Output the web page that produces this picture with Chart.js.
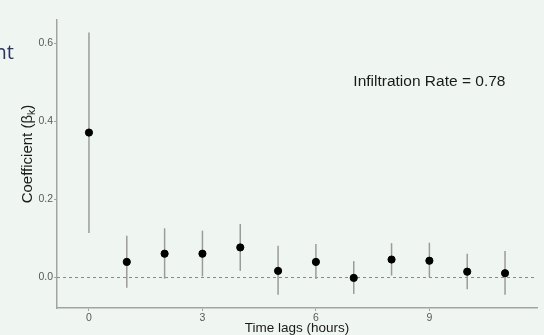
<!DOCTYPE html>
<html>
<head>
<meta charset="utf-8">
<script src="https://cdn.jsdelivr.net/npm/chart.js@4.4.0/dist/chart.umd.min.js"></script>
<style>
  html, body { margin: 0; padding: 0; background: #eff6f2; }
  #wrap { position: relative; width: 544px; height: 335px; overflow: hidden; }
  #cutTitle { position: absolute; right: 530px; top: 38px; font-family: "Open Sans", sans-serif; font-size: 20px; color: #2c3463; white-space: nowrap; }
</style>
</head>
<body>
<div id="wrap">
  <div id="cutTitle">Coefficient</div>
  <canvas id="myChart" width="544" height="335"></canvas>
</div>
<script>
// data
const lags = [0, 1, 2, 3, 4, 5, 6, 7, 8, 9, 10, 11];
const coef = [0.371, 0.040, 0.061, 0.061, 0.077, 0.017, 0.040, -0.001, 0.046, 0.043, 0.015, 0.011];
const upper = [0.627, 0.107, 0.126, 0.120, 0.137, 0.081, 0.086, 0.042, 0.088, 0.089, 0.061, 0.068];
const lower = [0.114, -0.026, -0.003, 0.003, 0.017, -0.044, -0.004, -0.042, 0.005, 0.001, -0.030, -0.044];
const xTicks = [0, 3, 6, 9];
const yTicks = [0, 0.2, 0.4, 0.6];
const noteText = 'Infiltration Rate = 0.78';

const axisGrey = '#a3a3a3';
const labelGrey = '#595959';
const fontFam = '"Liberation Sans", Arial, sans-serif';

// error bars, dashed zero line, titles
const errorBars = {
    id: 'errorBars',
    beforeDatasetsDraw(chart) {
        const ctx = chart.ctx;
        const x = chart.scales.x, y = chart.scales.y;
        const area = chart.chartArea;
        ctx.save();
        ctx.strokeStyle = '#8a8a8a';
        ctx.lineWidth = 1;
        ctx.setLineDash([3, 3]);
        ctx.beginPath();
        ctx.moveTo(area.left, y.getPixelForValue(0));
        ctx.lineTo(area.right, y.getPixelForValue(0));
        ctx.stroke();
        ctx.setLineDash([]);
        ctx.strokeStyle = '#9b9b9b';
        ctx.lineWidth = 1.5;
        lags.forEach((lag, i) => {
            const px = x.getPixelForValue(lag);
            ctx.beginPath();
            ctx.moveTo(px, y.getPixelForValue(upper[i]));
            ctx.lineTo(px, y.getPixelForValue(lower[i]));
            ctx.stroke();
        });
        ctx.restore();
    },
    afterDraw(chart) {
        const ctx = chart.ctx;
        const x = chart.scales.x, y = chart.scales.y;
        const area = chart.chartArea;
        ctx.save();
        ctx.fillStyle = '#1a1a1a';
        ctx.font = '15.5px ' + fontFam;
        ctx.textAlign = 'center';
        ctx.textBaseline = 'middle';
        ctx.fillText(noteText, x.getPixelForValue(9), y.getPixelForValue(0.5));
        // x title
        ctx.font = '13.5px ' + fontFam;
        ctx.fillText('Time lags (hours)', (area.left + area.right) / 2, 328);
        // y title with subscript k
        ctx.translate(28, 154);
        ctx.rotate(-Math.PI / 2);
        const big = '15px ' + fontFam, small = '10.5px ' + fontFam;
        const main = 'Coefficient (β';
        ctx.font = big;
        const w1 = ctx.measureText(main).width;
        const w3 = ctx.measureText(')').width;
        ctx.font = small;
        const w2 = ctx.measureText('k').width;
        const start = -(w1 + w2 + w3) / 2;
        ctx.textAlign = 'left';
        ctx.font = big;
        ctx.fillText(main, start, 0);
        ctx.font = small;
        ctx.fillText('k', start + w1, 4);
        ctx.font = big;
        ctx.fillText(')', start + w1 + w2, 0);
        ctx.restore();
    }
};

new Chart(document.getElementById('myChart').getContext('2d'), {
    type: 'scatter',
    data: {
        datasets: [{
            data: lags.map((l, i) => ({ x: l, y: coef[i] })),
            backgroundColor: '#000000',
            borderColor: '#000000',
            pointRadius: 3.6,
            pointHoverRadius: 3.6
        }]
    },
    options: {
        responsive: false,
        animation: false,
        layout: { padding: { top: 20, right: 7, left: 0, bottom: 0 } },
        plugins: { legend: { display: false }, tooltip: { enabled: false } },
        scales: {
            x: {
                type: 'linear',
                min: -0.845,
                max: 11.845,
                afterBuildTicks: s => { s.ticks = xTicks.map(v => ({ value: v })); },
                afterFit: s => { s.height = 27; },
                grid: { drawOnChartArea: false, drawTicks: true, tickLength: 3, color: axisGrey },
                border: { color: axisGrey, width: 1.5 },
                ticks: {
                    color: labelGrey, padding: 1,
                    font: { family: fontFam, size: 10.5 },
                    callback: v => String(v)
                }
            },
            y: {
                min: -0.078,
                max: 0.659,
                afterBuildTicks: s => { s.ticks = yTicks.map(v => ({ value: v })); },
                afterFit: s => { s.width = 57; },
                grid: { drawOnChartArea: false, drawTicks: true, tickLength: 3, color: axisGrey },
                border: { color: axisGrey, width: 1.5 },
                ticks: {
                    color: labelGrey, padding: 1,
                    font: { family: fontFam, size: 10.5 },
                    callback: v => v.toFixed(1)
                }
            }
        }
    },
    plugins: [errorBars]
});
</script>
</body>
</html>
